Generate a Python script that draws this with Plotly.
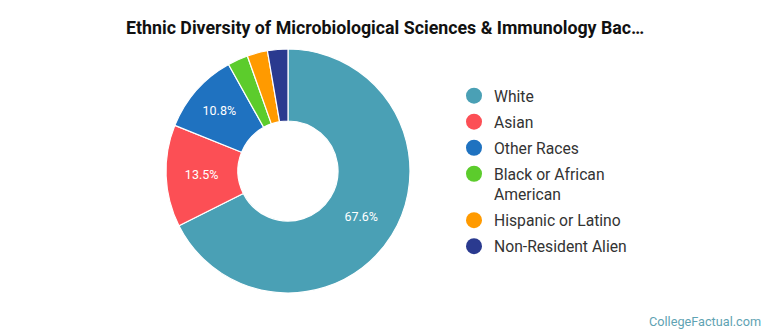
import plotly.graph_objects as go

categories = ["White", "Asian", "Other Races", "Black or African American", "Hispanic or Latino", "Non-Resident Alien"]
legend_labels = ["White", "Asian", "Other Races", "Black or African<br>American", "Hispanic or Latino", "Non-Resident Alien"]
values = [67.6, 13.5, 10.8, 2.7, 2.7, 2.7]
colors = ["#4aa0b5", "#fc4f55", "#1f72c0", "#5ccc2c", "#ff9a00", "#2a3a8f"]

slice_text = [f"{v:.1f}%" if v >= 5 else "" for v in values]

fig = go.Figure()
fig.add_trace(go.Pie(
    labels=categories,
    values=values,
    text=slice_text,
    textinfo="text",
    textposition="inside",
    insidetextorientation="horizontal",
    textfont=dict(family="Roboto", size=12.5, color="white"),
    hole=0.41,
    sort=False,
    direction="clockwise",
    rotation=0,
    marker=dict(colors=colors, line=dict(color="white", width=1.2)),
    domain=dict(x=[166/770, 410/770], y=[1-293/335, 1-49/335]),
    showlegend=False,
))

for lab, col in zip(legend_labels, colors):
    fig.add_trace(go.Scatter(
        x=[None], y=[None], mode="markers", name=lab,
        marker=dict(color=col, size=16, symbol="circle"),
        legendgroup=lab, showlegend=True, hoverinfo="skip",
    ))

fig.update_layout(
    width=770, height=335,
    margin=dict(l=0, r=0, t=0, b=0),
    paper_bgcolor="white", plot_bgcolor="white",
    xaxis=dict(visible=False), yaxis=dict(visible=False),
    legend=dict(
        x=454/770, y=1-79/335, xanchor="left", yanchor="top",
        font=dict(family="Roboto", size=15.7, color="#333333"),
        tracegroupgap=2.6, itemsizing="trace", valign="top",
        bgcolor="rgba(0,0,0,0)",
    ),
    annotations=[
        dict(text="<b>Ethnic Diversity of Microbiological Sciences &amp; Immunology Bac…</b>",
             x=385/770, y=1-28/335, xref="paper", yref="paper",
             xanchor="center", yanchor="middle", showarrow=False,
             font=dict(family="Roboto", size=17.8, color="#111111")),
        dict(text="CollegeFactual.com", x=763/770, y=1-321/335,
             xref="paper", yref="paper", xanchor="right", yanchor="middle",
             showarrow=False, font=dict(family="Roboto", size=12.7, color="#5fa3b3")),
    ],
)

fig.write_html("out.html")
